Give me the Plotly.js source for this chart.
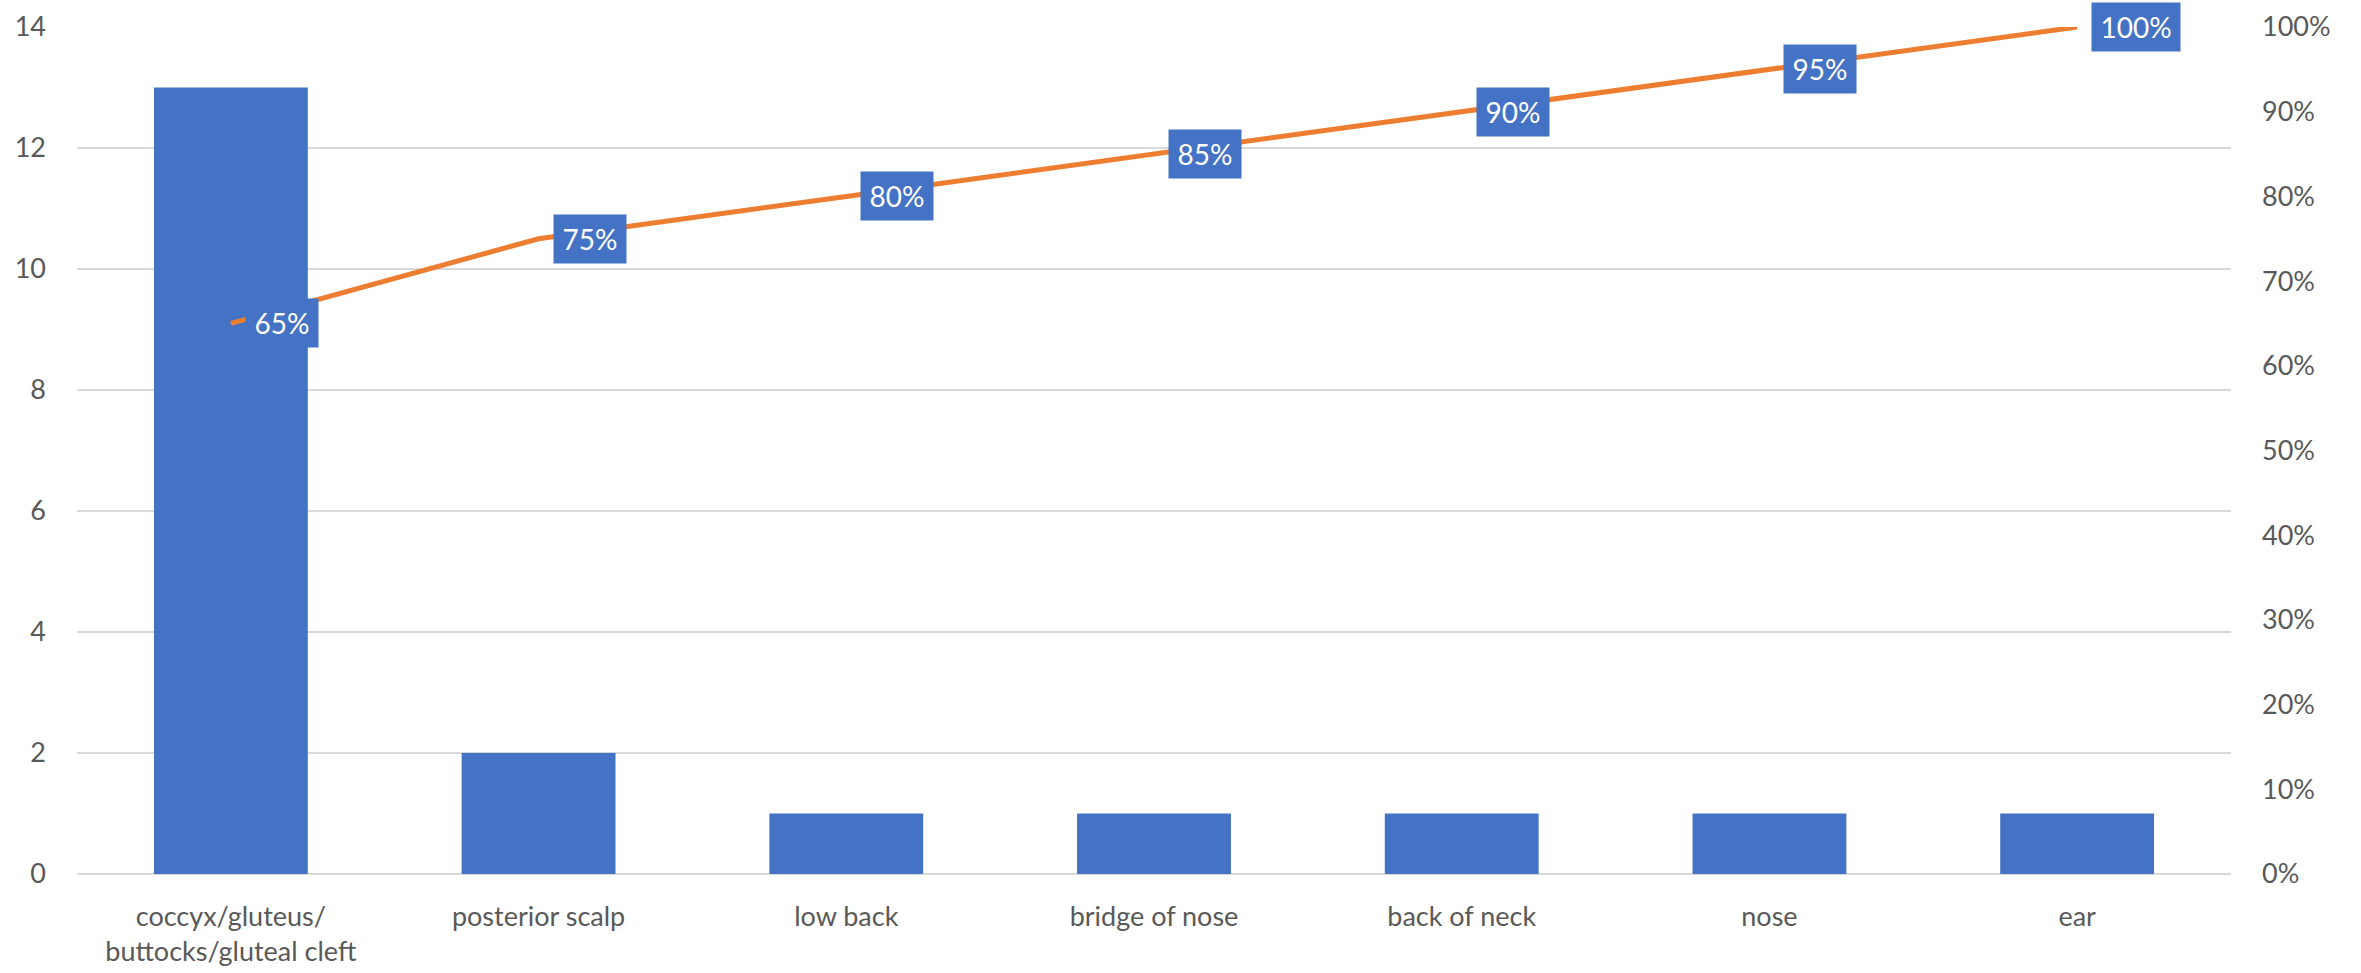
<!DOCTYPE html>
<html>
<head>
<meta charset="utf-8">
<script src="https://cdn.plot.ly/plotly-3.0.1.min.js"></script>
<style>html,body{margin:0;padding:0;background:#fff;}#chart{width:2361px;height:973px;}</style>
</head>
<body>
<div id="chart"></div>
<script>
const categories = ["coccyx/gluteus/<br>buttocks/gluteal cleft", "posterior scalp", "low back", "bridge of nose", "back of neck", "nose", "ear"];
const counts = [13, 2, 1, 1, 1, 1, 1];
const cumulative = [0.65, 0.75, 0.80, 0.85, 0.90, 0.95, 1.00];
const cumulativeLabels = ["65%", "75%", "80%", "85%", "90%", "95%", "100%"];

const FONT = "Lato, 'Open Sans', sans-serif";
const TICKCOLOR = "#595959";
const BLUE = "#4472C4";
const ORANGE = "#ED7D31";

const traces = [
  {
    type: "bar",
    x: categories,
    y: counts,
    marker: {color: BLUE},
    width: 0.5,
    hoverinfo: "x+y",
    showlegend: false
  },
  {
    type: "scatter",
    mode: "lines",
    x: categories,
    y: cumulative,
    yaxis: "y2",
    line: {color: ORANGE, width: 5},
    cliponaxis: false,
    showlegend: false
  }
];

const annotations = categories.map((c, i) => ({
  x: c,
  y: cumulative[i],
  xref: "x",
  yref: "y2",
  text: cumulativeLabels[i],
  showarrow: false,
  xanchor: "left",
  yanchor: "middle",
  xshift: 14,
  bgcolor: BLUE,
  borderpad: 0,
  width: cumulativeLabels[i].length > 3 ? 88 : 72,
  height: 48,
  font: {family: FONT, size: 28, color: "#ffffff"}
}));

const layout = {
  width: 2361,
  height: 973,
  margin: {l: 77, r: 130, t: 27, b: 99},
  paper_bgcolor: "#ffffff",
  plot_bgcolor: "#ffffff",
  font: {family: FONT, size: 27, color: TICKCOLOR},
  bargap: 0.5,
  xaxis: {
    type: "category",
    range: [-0.5, 6.5],
    showgrid: false,
    zeroline: false,
    showline: false,
    ticks: "",
    ticklabelstandoff: 24,
    tickfont: {family: FONT, size: 27, color: TICKCOLOR}
  },
  yaxis: {
    range: [0, 14],
    dtick: 2,
    showgrid: true,
    gridcolor: "#D9D9D9",
    gridwidth: 1.5,
    zeroline: true,
    zerolinecolor: "#D9D9D9",
    zerolinewidth: 1.5,
    showline: false,
    ticks: "",
    ticklabelstandoff: 30,
    tickfont: {family: FONT, size: 27, color: TICKCOLOR}
  },
  yaxis2: {
    overlaying: "y",
    side: "right",
    range: [0, 1],
    dtick: 0.1,
    tickformat: ".0%",
    showgrid: false,
    zeroline: false,
    showline: false,
    ticks: "",
    ticklabelstandoff: 30,
    tickfont: {family: FONT, size: 27, color: TICKCOLOR}
  },
  annotations: annotations,
  showlegend: false
};

Plotly.newPlot("chart", traces, layout, {displayModeBar: false, staticPlot: true});
</script>
</body>
</html>
